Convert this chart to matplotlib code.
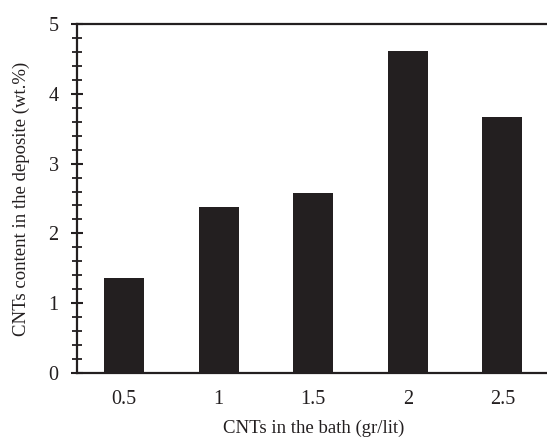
import matplotlib.pyplot as plt
import numpy as np
from matplotlib.ticker import MultipleLocator

plt.rcParams["font.family"] = ["Liberation Serif", "DejaVu Serif"]

bath_conc = ["0.5", "1", "1.5", "2", "2.5"]
cnt_content = [1.36, 2.38, 2.58, 4.62, 3.67]

bar_color = "#231f20"

fig = plt.figure(figsize=(5.47, 4.37), dpi=100)
ax = fig.add_axes([0.1408, 0.1465, 1.0046 - 0.1408, 0.945 - 0.1465])

x = np.arange(len(bath_conc))
ax.bar(x, cnt_content, width=0.42, color=bar_color)

ax.set_xlim(-0.5, len(bath_conc) - 0.5)
ax.set_ylim(0, 5)
ax.set_xticks(x)
ax.set_xticklabels(bath_conc)
ax.yaxis.set_major_locator(MultipleLocator(1))
ax.yaxis.set_minor_locator(MultipleLocator(0.2))

ax.tick_params(axis="x", length=0, pad=12, labelsize=14.5, labelcolor=bar_color)
ax.tick_params(axis="y", which="major", direction="inout", length=8.6, width=1.5,
               labelsize=14.5, pad=9, color=bar_color, labelcolor=bar_color)
ax.tick_params(axis="y", which="minor", direction="inout", length=6.5, width=1.3,
               color=bar_color)

for side in ["left", "bottom", "top", "right"]:
    ax.spines[side].set_linewidth(1.6)
    ax.spines[side].set_color(bar_color)

ax.set_xlabel("CNTs in the bath (gr/lit)", fontsize=13.5, labelpad=8,
              color=bar_color)
ax.set_ylabel("CNTs content in the deposite (wt.%)", fontsize=13.5, labelpad=13,
              color=bar_color)

fig.savefig("out.png", dpi=100)
